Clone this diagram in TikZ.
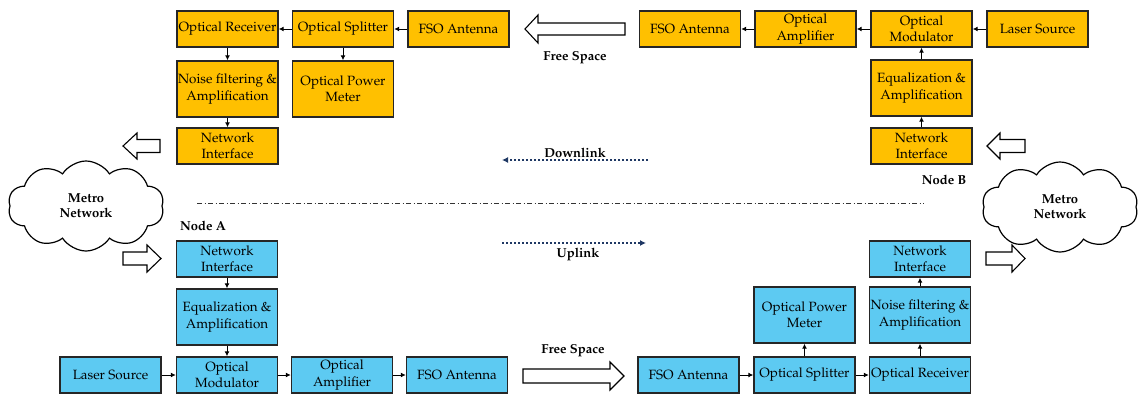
\documentclass[tikz,border=0pt]{standalone}
\usepackage[T1]{fontenc}
\usepackage{mathpazo}
\usetikzlibrary{shapes.symbols,arrows.meta}
\definecolor{orng}{HTML}{FFC000}
\definecolor{skyb}{HTML}{5DCAF2}
\definecolor{navy}{HTML}{1F3864}
\begin{document}
\begin{tikzpicture}[x=1pt,y=-1pt,
  box/.style={draw=black!85,line width=1.4pt,inner sep=0pt,minimum width=101pt,minimum height=36pt,align=center,
    font=\fontsize{13.4}{16.3}\selectfont},
  tall/.style={box,minimum height=56pt},
  ob/.style={fill=orng},
  bb/.style={fill=skyb},
  con/.style={line width=1pt,-{Latex[length=5pt,width=5pt]}},
  lbl/.style={font=\fontsize{13}{15}\selectfont\bfseries},
  hollow/.style={draw=black,line width=1.1pt,fill=white,line join=miter},
  link/.style={navy,line width=2pt,dotted,-{Latex[length=6pt,width=6pt]}},
  metro/.style={cloud,draw,line width=1.2pt,cloud puffs=10,cloud puff arc=115,aspect=1.75,
    minimum width=156pt,minimum height=90pt,align=center,inner sep=0pt,
    font=\fontsize{13}{15}\selectfont\bfseries}
]
\useasboundingbox (0,0) rectangle (1143,397);

% ---------- Top (downlink) ----------
\node[box,ob] (trx) at (227.5,29) {Optical Receiver};
\node[box,ob] (tsp) at (343,29) {Optical Splitter};
\node[box,ob] (tfa) at (458.5,29) {FSO Antenna};
\node[box,ob] (tfb) at (690,29) {FSO Antenna};
\node[box,ob] (tamp) at (805.5,29) {Optical\\Amplifier};
\node[box,ob] (tmod) at (921.5,29) {Optical\\Modulator};
\node[box,ob] (tlas) at (1037.5,29) {Laser Source};
\node[tall,ob] (tnoise) at (227.5,89) {Noise filtering \&\\Amplification};
\node[tall,ob] (tpm) at (343,89) {Optical Power\\Meter};
\node[tall,ob] (teq) at (921.5,88) {Equalization \&\\Amplification};
\node[box,ob] (tni) at (227.5,146) {Network\\Interface};
\node[box,ob] (tni2) at (921.5,146) {Network\\Interface};

\draw[con] (tsp) -- (trx);
\draw[con] (tfa) -- (tsp);
\draw[con] (trx) -- (tnoise);
\draw[con] (tnoise) -- (tni);
\draw[con] (tsp) -- (tpm);
\draw[con] (tamp) -- (tfb);
\draw[con] (tmod) -- (tamp);
\draw[con] (tlas) -- (tmod);
\draw[con] (teq) -- (tmod);
\draw[con] (tni2) -- (teq);

% ---------- Bottom (uplink) ----------
\node[box,bb] (bni) at (227,259) {Network\\Interface};
\node[tall,bb] (beq) at (227,317) {Equalization \&\\Amplification};
\node[box,bb] (blas) at (110.5,375) {Laser Source};
\node[box,bb] (bmod) at (227,375) {Optical\\Modulator};
\node[box,bb] (bamp) at (342,375) {Optical\\Amplifier};
\node[box,bb] (bfa) at (457,375) {FSO Antenna};
\node[box,bb] (bfa2) at (688.5,375) {FSO Antenna};
\node[box,bb] (bsp) at (804.5,375) {Optical Splitter};
\node[box,bb] (brx) at (920,375) {Optical Receiver};
\node[tall,bb] (bpm) at (804.5,315) {Optical Power\\Meter};
\node[tall,bb] (bnoise) at (920,315) {Noise filtering \&\\Amplification};
\node[box,bb] (bni2) at (920,259) {Network\\Interface};

\draw[con] (bni) -- (beq);
\draw[con] (beq) -- (bmod);
\draw[con] (blas) -- (bmod);
\draw[con] (bmod) -- (bamp);
\draw[con] (bamp) -- (bfa);
\draw[con] (bfa2) -- (bsp);
\draw[con] (bsp) -- (brx);
\draw[con] (bsp) -- (bpm);
\draw[con] (brx) -- (bnoise);
\draw[con] (bnoise) -- (bni2);

% ---------- Hollow arrows ----------
\draw[hollow] (525,29) -- (538,15) -- (538,23) -- (625,23) -- (625,35) -- (538,35) -- (538,43) -- cycle;
\draw[hollow] (624,376) -- (610,362) -- (610,369) -- (523,369) -- (523,383) -- (610,383) -- (610,390) -- cycle;
\draw[hollow] (123,146) -- (137,133) -- (137,139.5) -- (160,139.5) -- (160,152.5) -- (137,152.5) -- (137,159) -- cycle;
\draw[hollow] (987,146) -- (1000,133) -- (1000,139.5) -- (1025,139.5) -- (1025,152.5) -- (1000,152.5) -- (1000,159) -- cycle;
\draw[hollow] (161,258.5) -- (147,245) -- (147,252) -- (123,252) -- (123,265) -- (147,265) -- (147,272) -- cycle;
\draw[hollow] (1025,258.5) -- (1012,245) -- (1012,252) -- (986,252) -- (986,265) -- (1012,265) -- (1012,272) -- cycle;

\node[lbl] (fs1) at (575,58) {Free Space};
\node[lbl] (fs2) at (573,351) {Free Space};

% ---------- Clouds ----------
\node[metro] (mnA) at (86,206) {Metro\\Network};
\node[metro] (mnB) at (1060,207) {Metro\\Network};

% ---------- Separator and links ----------
\coordinate (sepL) at (197,203);
\coordinate (sepR) at (924,203);
\draw[black!80,line width=0.8pt,dash pattern=on 5pt off 2.5pt on 1pt off 2.5pt] (sepL) -- (sepR);

\coordinate (dlS) at (648,160);
\coordinate (dlE) at (502,160);
\draw[link] (dlS) -- (dlE);
\node[lbl] (dl) at (575,153) {Downlink};

\coordinate (ulS) at (502,243);
\coordinate (ulE) at (646,243);
\draw[link] (ulS) -- (ulE);
\node[lbl] (ul) at (578,254) {Uplink};

\node[lbl] (nA) at (203,226) {Node A};
\node[lbl] (nB) at (944,180) {Node B};
\end{tikzpicture}
\end{document}
